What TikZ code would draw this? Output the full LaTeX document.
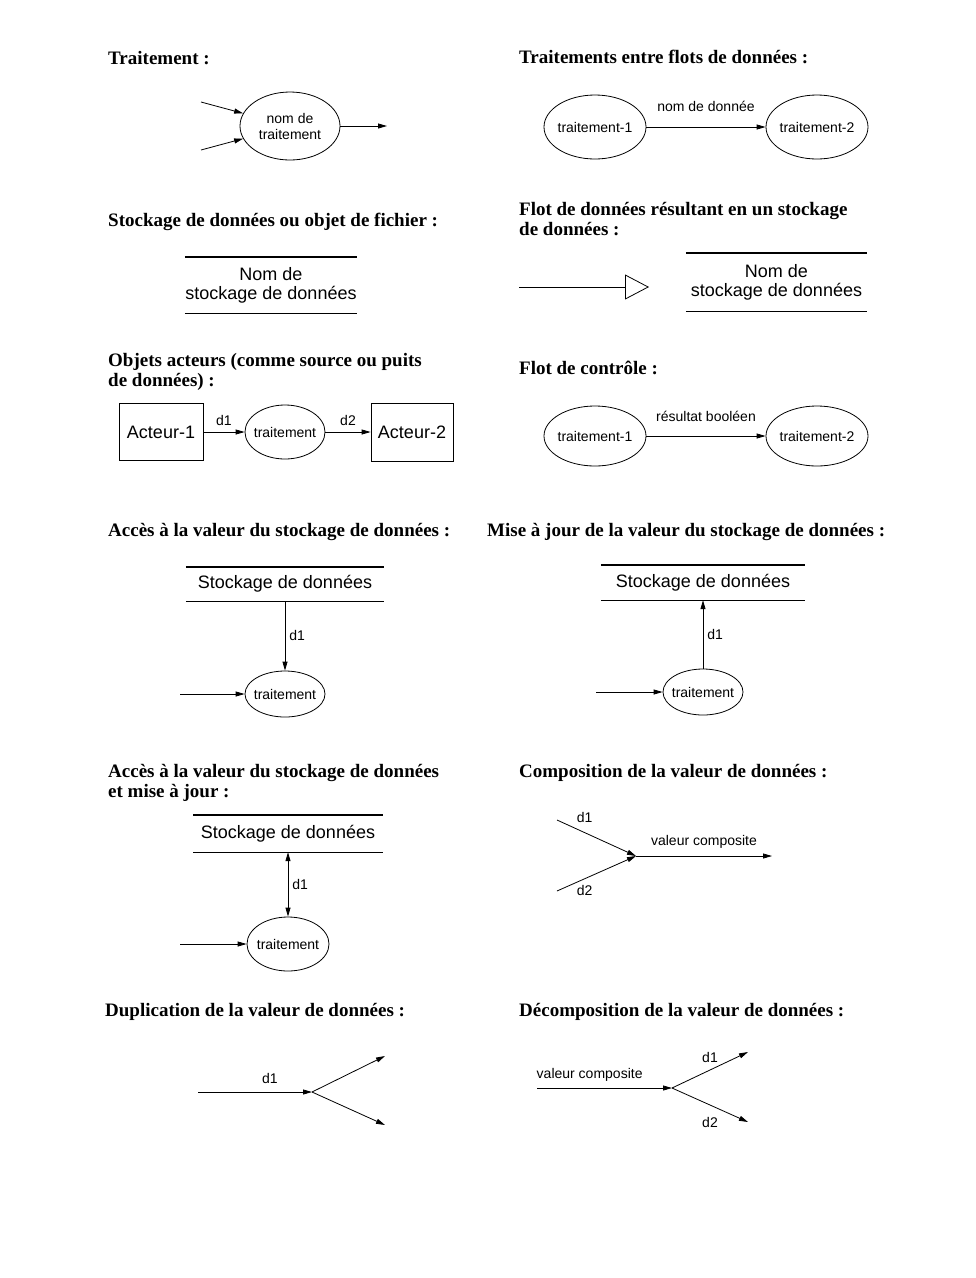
\documentclass[tikz,border=0pt]{standalone}
\usepackage{fontspec}
\setmainfont{Liberation Serif}
\setsansfont{Liberation Sans}
\usetikzlibrary{shapes.geometric,arrows.meta}
\newcommand{\zwbox}[1]{\makebox[0pt]{#1}}
\begin{document}
\begin{tikzpicture}[x=1pt,y=-1pt,
  head/.style={font=\rmfamily\bfseries\fontsize{19}{20}\selectfont, anchor=west, align=left, inner sep=0pt},
  lbl/.style={font=\sffamily\fontsize{14}{16}\selectfont, inner sep=1pt},
  big/.style={font=\sffamily\fontsize{18}{19}\selectfont, align=center, inner sep=0pt},
  proc/.style={ellipse, draw, line width=0.8pt, inner sep=0pt, align=center, font=\sffamily\fontsize{14}{16}\selectfont},
  actor/.style={rectangle, draw, line width=0.8pt, inner sep=0pt, font=\sffamily\fontsize{18}{19}\selectfont},
  store/.style={big, rectangle, draw=none},
  storeline/.style={line width=1.4pt},
  flow/.style={-{Triangle[length=9pt,width=5pt]}, line width=0.8pt},
  bflow/.style={{Triangle[length=9pt,width=5pt]}-{Triangle[length=9pt,width=5pt]}, line width=0.8pt},
  oflow/.style={-{Triangle[open,length=24pt,width=25pt]}, line width=0.8pt}
]
\fill[white] (0,0) rectangle (976,1278);
\useasboundingbox (0,0) rectangle (976,1278);

% ---------- Traitement
\node[head] (h1) at (108,58) {Traitement :};
\node[proc, minimum width=100, minimum height=68] (p1) at (290,126) {\zwbox{nom de}\\\zwbox{traitement}};
\coordinate (i1) at (201,102);
\coordinate (i2) at (201,150);
\coordinate (o1) at (387,126);
\draw[flow] (i1) -- (p1);
\draw[flow] (i2) -- (p1);
\draw[flow] (p1) -- (o1);

% ---------- Traitements entre flots
\node[head] (h2) at (519,57) {Traitements entre flots de données :};
\node[proc, minimum width=102, minimum height=64] (t1) at (595,127) {\zwbox{traitement-1}};
\node[proc, minimum width=102, minimum height=64] (t2) at (817,127) {\zwbox{traitement-2}};
\draw[flow] (t1) -- node[lbl, yshift=21pt] {nom de donnée} (t2);

% ---------- Stockage
\node[head] (h3) at (108,222) {Stockage de données ou objet de fichier :};
\node[store, minimum width=172, minimum height=56] (s1) at (271,285) {Nom de\\stockage de données};
\draw[storeline] (s1.north west) -- (s1.north east);
\draw[storeline] (s1.south west) -- (s1.south east);

% ---------- Flot vers stockage
\node[head] (h4) at (519,219.5) {Flot de données résultant en un stockage\\de données :};
\node[store, minimum width=181, minimum height=58] (s2) at (776.5,282) {Nom de\\stockage de données};
\draw[storeline] (s2.north west) -- (s2.north east);
\draw[storeline] (s2.south west) -- (s2.south east);
\coordinate (a0) at (519,287);
\coordinate (a1) at (649,287);
\draw[oflow] (a0) -- (a1);

% ---------- Objets acteurs
\node[head] (h5) at (108,371.5) {Objets acteurs (comme source ou puits\\de données) :};
\node[actor, minimum width=84, minimum height=57] (A1) at (161,432) {Acteur-1};
\node[proc, minimum width=80, minimum height=54] (tr) at (285,432) {\zwbox{traitement}};
\node[actor, minimum width=82, minimum height=58] (A2) at (412,432) {Acteur-2};
\draw[flow] (A1) -- node[lbl, yshift=12pt] {d1} (tr);
\draw[flow] (tr) -- node[lbl, yshift=12pt] {d2} (A2);

% ---------- Flot de controle
\node[head] (h6) at (519,368) {Flot de contrôle :};
\node[proc, minimum width=102, minimum height=60] (c1) at (595,436) {\zwbox{traitement-1}};
\node[proc, minimum width=102, minimum height=60] (c2) at (817,436) {\zwbox{traitement-2}};
\draw[flow] (c1) -- node[lbl, yshift=20pt] {résultat booléen} (c2);

% ---------- Acces
\node[head] (h7) at (108,532) {Accès à la valeur du stockage de données :};
\node[store, minimum width=198, minimum height=34] (s3) at (285,584) {Stockage de données};
\draw[storeline] (s3.north west) -- (s3.north east);
\draw[storeline] (s3.south west) -- (s3.south east);
\node[proc, minimum width=80, minimum height=46] (e3) at (285,694) {\zwbox{traitement}};
\coordinate (in3) at (180,694);
\draw[flow] (s3.south) -- node[lbl, right=3pt] {d1} (e3.north);
\draw[flow] (in3) -- (e3);

% ---------- Mise a jour
\node[head] (h8) at (487,532) {Mise à jour de la valeur du stockage de données :};
\node[store, minimum width=204, minimum height=35] (s4) at (703,582.5) {Stockage de données};
\draw[storeline] (s4.north west) -- (s4.north east);
\draw[storeline] (s4.south west) -- (s4.south east);
\node[proc, minimum width=80, minimum height=46] (e4) at (703,692) {\zwbox{traitement}};
\coordinate (in4) at (596,692);
\draw[flow] (e4.north) -- node[lbl, right=3pt] {d1} (s4.south);
\draw[flow] (in4) -- (e4);

% ---------- Acces et mise a jour
\node[head] (h9) at (108,782.5) {Accès à la valeur du stockage de données\\et mise à jour :};
\node[store, minimum width=189, minimum height=37] (s5) at (288,833.5) {Stockage de données};
\draw[storeline] (s5.north west) -- (s5.north east);
\draw[storeline] (s5.south west) -- (s5.south east);
\node[proc, minimum width=82, minimum height=54] (e5) at (288,944) {\zwbox{traitement}};
\coordinate (in5) at (180,944);
\draw[bflow] (s5.south) -- node[lbl, right=3pt] {d1} (e5.north);
\draw[flow] (in5) -- (e5);

% ---------- Composition
\node[head] (h10) at (519,773) {Composition de la valeur de données :};
\coordinate (cd1) at (557,820);
\coordinate (cd2) at (557,891);
\coordinate (cj) at (636,856);
\coordinate (co) at (772,856);
\draw[flow] (cd1) -- node[lbl, pos=.35, yshift=15pt] {d1} (cj);
\draw[flow] (cd2) -- node[lbl, pos=.35, yshift=-12pt] {d2} (cj);
\draw[flow] (cj) -- node[lbl, yshift=14pt] {valeur composite} (co);

% ---------- Duplication
\node[head] (h11) at (105,1012) {Duplication de la valeur de données :};
\coordinate (dd0) at (198,1092);
\coordinate (dj) at (312,1092);
\coordinate (du) at (385,1056);
\coordinate (dl) at (385,1125);
\draw[flow] (dd0) -- node[lbl, pos=.63, yshift=14pt] {d1} (dj);
\draw[flow] (dj) -- (du);
\draw[flow] (dj) -- (dl);

% ---------- Decomposition
\node[head] (h12) at (519,1012) {Décomposition de la valeur de données :};
\coordinate (de0) at (537,1088);
\coordinate (ej) at (672,1088);
\coordinate (eu) at (748,1052);
\coordinate (el) at (748,1122);
\draw[flow] (de0) -- node[lbl, pos=.39, yshift=13pt] {valeur composite} (ej);
\draw[flow] (ej) -- node[lbl, yshift=13pt] {d1} (eu);
\draw[flow] (ej) -- node[lbl, yshift=-17pt] {d2} (el);
\end{tikzpicture}
\end{document}
